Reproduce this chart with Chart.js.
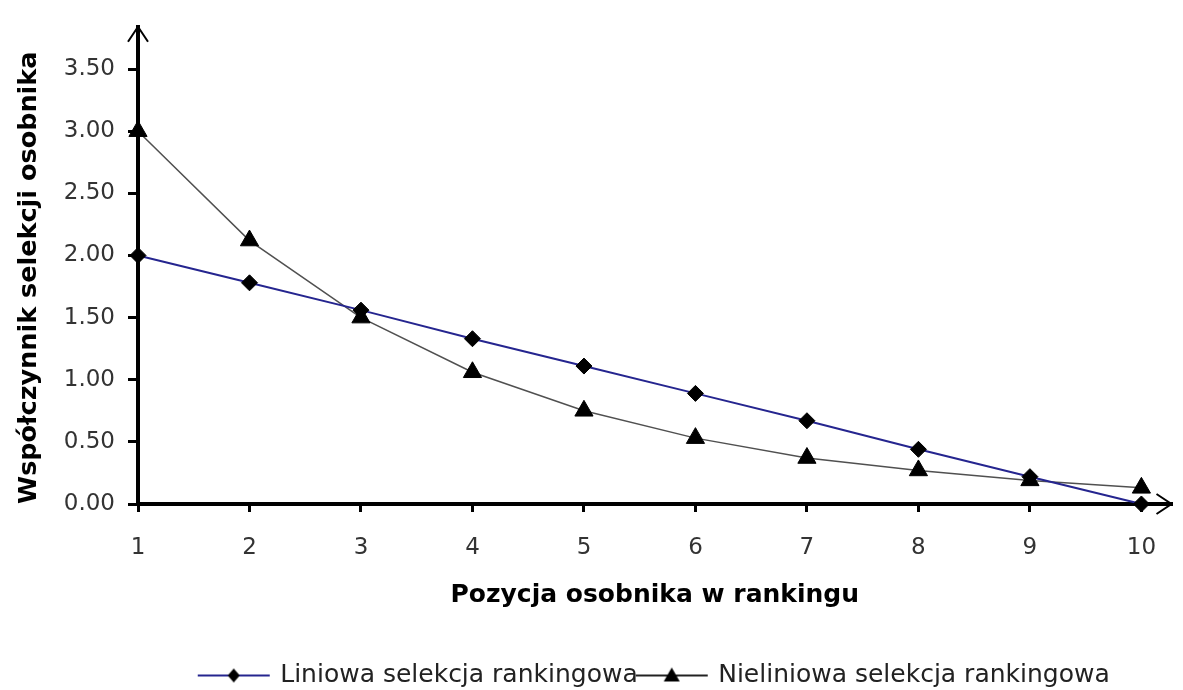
<!DOCTYPE html>
<html>
<head>
<meta charset="utf-8">
<script src="https://cdn.jsdelivr.net/npm/chart.js@4.4.1/dist/chart.umd.min.js"></script>
<style>
  html, body { margin: 0; padding: 0; background: #fff; }
  #wrap { width: 1183px; height: 690px; position: relative; overflow: hidden; }
</style>
</head>
<body>
<div id="wrap"><canvas id="c"></canvas></div>
<script>
// ---- data ----
const positions = [1, 2, 3, 4, 5, 6, 7, 8, 9, 10];
const linearValues = [2.00, 1.78, 1.56, 1.33, 1.11, 0.89, 0.67, 0.44, 0.22, 0.00];
const nonlinearValues = [3.00, 2.12, 1.50, 1.06, 0.75, 0.53, 0.37, 0.27, 0.19, 0.13];
const seriesNames = ['Liniowa selekcja rankingowa', 'Nieliniowa selekcja rankingowa'];
const xTitle = 'Pozycja osobnika w rankingu';
const yTitle = 'Współczynnik selekcji osobnika';
const xTickValues = [1, 2, 3, 4, 5, 6, 7, 8, 9, 10];
const yTickValues = [0, 0.5, 1, 1.5, 2, 2.5, 3, 3.5];

const FONT = "'DejaVu Sans', 'Liberation Sans', sans-serif";
const BLUE = '#25258f';
const GREY = '#505050';

function makeLegendIcon(kind, lineColor) {
  const w = 84, h = 22;
  const cv = document.createElement('canvas');
  cv.width = w; cv.height = h;
  const g = cv.getContext('2d');
  g.strokeStyle = lineColor; g.lineWidth = 2;
  g.beginPath(); g.moveTo(6, 11); g.lineTo(w - 6, 11); g.stroke();
  g.fillStyle = '#000';
  g.beginPath();
  const cx = w / 2;
  if (kind === 'diamond') {
    g.moveTo(cx, 4); g.lineTo(cx + 6, 11); g.lineTo(cx, 18); g.lineTo(cx - 6, 11);
  } else {
    g.moveTo(cx, 3); g.lineTo(cx + 8, 17); g.lineTo(cx - 8, 17);
  }
  g.closePath(); g.fill();
  return cv;
}

const arrowPlugin = {
  id: 'arrows',
  afterDraw(chart) {
    const ctx = chart.ctx;
    const a = chart.chartArea;
    const x0 = chart.scales.x.left;
    const y0 = chart.scales.y.bottom;
    ctx.save();
    ctx.strokeStyle = '#000';
    ctx.lineWidth = 2;
    ctx.beginPath();
    ctx.moveTo(x0 - 10, a.top + 15); ctx.lineTo(x0, a.top); ctx.lineTo(x0 + 10, a.top + 15);
    ctx.moveTo(a.right - 15, y0 - 10); ctx.lineTo(a.right, y0); ctx.lineTo(a.right - 15, y0 + 10);
    ctx.stroke();
    ctx.restore();
  }
};

new Chart(document.getElementById('c'), {
  type: 'line',
  data: {
    datasets: [
      {
        label: seriesNames[0],
        data: positions.map((p, i) => ({ x: p, y: linearValues[i] })),
        borderColor: BLUE,
        borderWidth: 2,
        backgroundColor: '#000',
        pointStyle: 'rectRot',
        pointRadius: 8,
        pointBackgroundColor: '#000',
        pointBorderColor: '#000',
        pointBorderWidth: 1,
        tension: 0,
        clip: false
      },
      {
        label: seriesNames[1],
        data: positions.map((p, i) => ({ x: p, y: nonlinearValues[i] })),
        borderColor: GREY,
        borderWidth: 1.5,
        backgroundColor: '#000',
        pointStyle: 'triangle',
        pointRadius: 10.5,
        pointBackgroundColor: '#000',
        pointBorderColor: '#000',
        pointBorderWidth: 1,
        tension: 0,
        clip: false
      }
    ]
  },
  options: {
    responsive: true,
    maintainAspectRatio: false,
    animation: false,
    layout: { padding: { left: 0, right: 8, top: 12, bottom: -8 } },
    plugins: {
      tooltip: { enabled: false },
      legend: {
        position: 'bottom',
        fullSize: false,
        labels: {
          font: { family: FONT, size: 25 },
          color: '#222',
          usePointStyle: true,
          pointStyleWidth: 68,
          padding: 0,
          generateLabels(chart) {
            return [
              { text: seriesNames[0], pointStyle: makeLegendIcon('diamond', BLUE), datasetIndex: 0, fontColor: '#222', lineWidth: 0, strokeStyle: 'transparent', fillStyle: 'transparent' },
              { text: seriesNames[1], pointStyle: makeLegendIcon('triangle', '#222'), datasetIndex: 1, fontColor: '#222', lineWidth: 0, strokeStyle: 'transparent', fillStyle: 'transparent' }
            ];
          }
        }
      }
    },
    scales: {
      x: {
        type: 'linear',
        min: 1,
        max: 10.27,
        afterBuildTicks(scale) { scale.ticks = xTickValues.map(v => ({ value: v })); },
        afterFit(scale) { scale.height = 159; },
        ticks: {
          font: { family: FONT, size: 23 },
          color: '#333',
          padding: 22,
          maxRotation: 0,
          callback: v => String(v)
        },
        grid: { drawOnChartArea: false, drawTicks: true, tickLength: 8, color: '#000', lineWidth: 3 },
        border: { display: true, color: '#000', width: 4 },
        title: {
          display: true,
          text: xTitle,
          font: { family: FONT, size: 25, weight: 'bold' },
          color: '#000',
          padding: { top: 0, bottom: 53 }
        }
      },
      y: {
        type: 'linear',
        min: 0,
        max: 3.84,
        afterBuildTicks(scale) { scale.ticks = yTickValues.map(v => ({ value: v })); },
        afterFit(scale) { scale.width = 138; },
        ticks: {
          font: { family: FONT, size: 23 },
          color: '#333',
          padding: 13,
          callback: v => Number(v).toFixed(2)
        },
        grid: { drawOnChartArea: false, drawTicks: true, tickLength: 10, color: '#000', lineWidth: 3 },
        border: { display: true, color: '#000', width: 4 },
        title: {
          display: true,
          text: yTitle,
          align: 'start',
          font: { family: FONT, size: 25.5, weight: 'bold' },
          color: '#000',
          padding: { top: 14, bottom: 0 }
        }
      }
    }
  },
  plugins: [arrowPlugin]
});
</script>
</body>
</html>
